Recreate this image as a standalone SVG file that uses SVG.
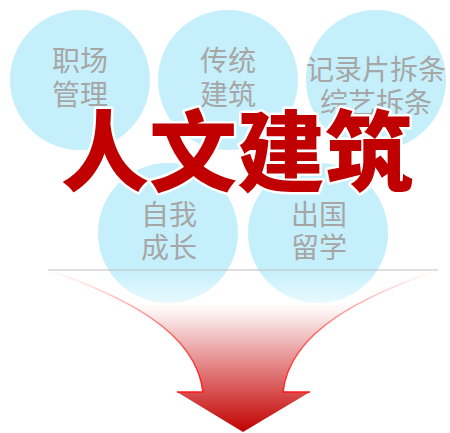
<svg xmlns="http://www.w3.org/2000/svg" width="450" height="433" viewBox="0 0 450 433">
<style>
.bub{fill:#C5F0FB}
.lbl{font-family:"Noto Sans CJK SC","Noto Sans",sans-serif;font-size:28px;fill:#A6A6A6;text-anchor:middle}
.title{font-family:"Noto Sans CJK SC",sans-serif;font-weight:900;font-size:88px;fill:#C00000;text-anchor:middle;stroke:#FFFFFF;stroke-width:5;stroke-linejoin:round;paint-order:stroke}
</style>
<defs>
<linearGradient id="fillG" x1="0" y1="270" x2="0" y2="432" gradientUnits="userSpaceOnUse">
<stop offset="0" stop-color="#FFFFFF" stop-opacity="0"/>
<stop offset="0.2" stop-color="#FFFFFF" stop-opacity="0.6"/>
<stop offset="0.35" stop-color="#F5D4D4"/>
<stop offset="0.75" stop-color="#D85050"/>
<stop offset="1" stop-color="#C00000"/>
</linearGradient>
<linearGradient id="edgeG" x1="0" y1="270" x2="0" y2="400" gradientUnits="userSpaceOnUse">
<stop offset="0" stop-color="#FF3030" stop-opacity="0"/>
<stop offset="0.5" stop-color="#FF3030" stop-opacity="0.7"/>
<stop offset="1" stop-color="#FF1010"/>
</linearGradient>
</defs>
<g id="n-zhichang"><circle class="bub" cx="80" cy="80" r="70"/><text class="lbl" x="80" y="71">职场</text><text class="lbl" x="80" y="105">管理</text></g>
<g id="n-chuantong"><circle class="bub" cx="228" cy="80" r="70"/><text class="lbl" x="228" y="71">传统</text><text class="lbl" x="228" y="105">建筑</text></g>
<g id="n-jilupian"><circle class="bub" cx="376" cy="80" r="70"/><text class="lbl" x="376" y="80">记录片拆条</text><text class="lbl" x="376" y="113">综艺拆条</text></g>
<g id="n-ziwo"><circle class="bub" cx="168" cy="233" r="70"/><text class="lbl" x="169" y="225">自我</text><text class="lbl" x="169" y="258">成长</text></g>
<g id="n-chuguo"><circle class="bub" cx="318" cy="233" r="70"/><text class="lbl" x="319" y="225">出国</text><text class="lbl" x="319" y="258">留学</text></g>
<g id="connectors">
<path d="M48,270 C120,295 196,330 203,392 L177,392 L243,432 L310,392 L283,392 C290,330 366,295 438,270 Z" fill="url(#fillG)"/>
<path d="M48,270 C120,295 196,330 203,392 L177,392" fill="none" stroke="url(#edgeG)" stroke-width="1.5"/>
<path d="M438,270 C366,295 290,330 283,392 L310,392" fill="none" stroke="url(#edgeG)" stroke-width="1.5"/>
<line x1="48" y1="270" x2="438" y2="270" stroke="#BFBFBF" stroke-width="1.2"/>
</g>
<g id="n-title"><text class="title" x="237" y="184">人文建筑</text></g>
</svg>
